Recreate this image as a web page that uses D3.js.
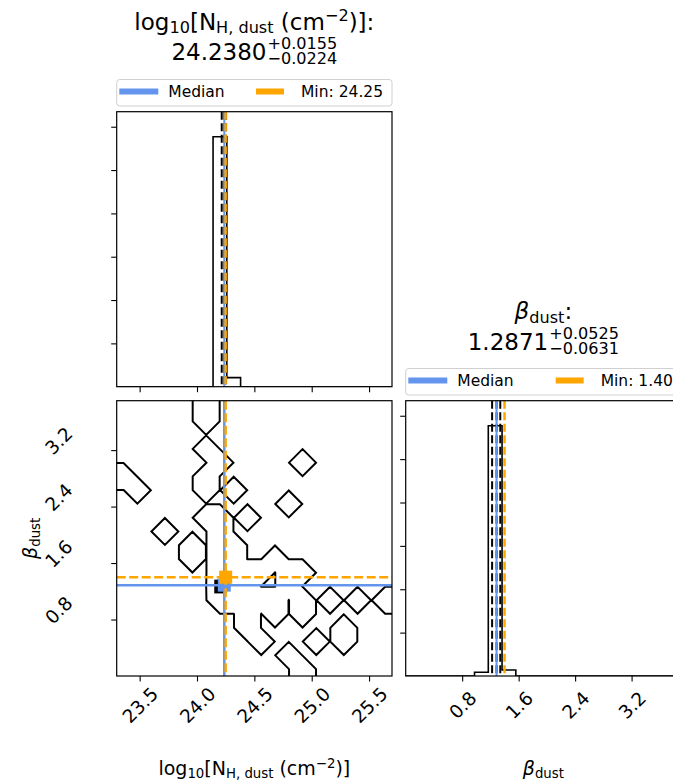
<!DOCTYPE html>
<html><head><meta charset="utf-8">
<script src="https://cdn.jsdelivr.net/npm/d3@7"></script>
<style>
body{margin:0;background:#fff;}
svg{display:block;font-family:'DejaVu Sans',sans-serif;}
text{white-space:pre;}
</style>
</head><body>
<svg id="c" width="673" height="784"></svg>
<script>
// ---------------- data ----------------
const nhRange = [23.3, 25.7];          // log10 N_H,dust axis range
const betaRange = [0.0, 3.9];          // beta_dust axis range
const nBins = 20;
const nhTicks = [23.5, 24.0, 24.5, 25.0, 25.5];
const nhTickLabels = ["23.5", "24.0", "24.5", "25.0", "25.5"];
const betaTicks = [0.8, 1.6, 2.4, 3.2];
const betaTickLabels = ["0.8", "1.6", "2.4", "3.2"];
const histTicks = [1, 2, 3, 4, 5, 6];
// 1D marginal histograms (20 bins each)
const nhHist   = [0,0,0,0,0,0,0,5.77,0.21,0,0,0,0,0,0,0,0,0,0,0];
const betaHist = [0,0,0,0,0,0.085,5.77,0.14,0,0,0,0,0,0,0,0,0,0,0,0];
// quantiles (16%, 50%, 84%) and best-fit (min) values
const nhQuantiles = [24.2156, 24.2380, 24.2535];
const betaQuantiles = [1.2240, 1.2871, 1.3396];
const nhMedian = 24.2380, nhErrPlus = "+0.0155", nhErrMinus = "\u22120.0224", nhMin = 24.25;
const betaMedian = 1.2871, betaErrPlus = "+0.0525", betaErrMinus = "\u22120.0631", betaMin = 1.40;
const legendLabels = ["Median", "Min: 24.25", "Min: 1.40"];
// 2D histogram counts: rows from the highest beta bin (top) to the lowest (bottom),
// columns from the lowest log N_H bin (left) to the highest (right)
const jointCounts = [
  [0,0,0,0,0,0,1,0,0,0,0,0,0,0,0,0,0,0,0,0],
  [0,0,0,0,0,0,1,0,0,0,0,0,0,0,0,0,0,0,0,0],
  [0,0,0,0,0,0,0,0,0,0,0,0,0,0,0,0,0,0,0,0],
  [0,0,0,0,0,0,1,0,0,0,0,0,0,0,0,0,0,0,0,0],
  [0,0,0,0,0,0,0,1,0,0,0,0,0,1,0,0,0,0,0,0],
  [1,0,0,0,0,0,1,0,0,0,0,0,0,0,0,0,0,0,0,0],
  [0,1,0,0,0,0,1,0,1,0,0,0,0,0,0,0,0,0,0,0],
  [0,0,0,0,0,0,0,0,0,0,0,0,1,0,0,0,0,0,0,0],
  [0,0,0,0,0,0,1,1,0,1,0,0,0,0,0,0,0,0,0,0],
  [0,0,0,1,0,0,0,1,0,0,0,0,0,0,0,0,0,0,0,0],
  [0,0,0,0,0,1,0,1,1,0,0,0,0,0,0,0,0,0,0,0],
  [0,0,0,0,0,1,0,1,1,0,0,1,0,0,0,0,0,0,0,0],
  [0,0,0,0,0,0,0,1,1,1,1,0,1,1,0,0,0,0,0,0],
  [0,0,0,0,0,0,0,40,1,1,0,0,1,0,0,0,0,0,0,0],
  [0,0,0,0,0,0,0,1,1,1,1,1,0,1,0,1,0,1,0,1],
  [0,0,0,0,0,0,0,0,0,1,0,1,0,1,0,0,0,0,0,0],
  [0,0,0,0,0,0,0,0,0,1,0,0,0,0,0,0,1,0,0,0],
  [0,0,0,0,0,0,0,0,0,0,1,0,0,0,1,0,1,0,0,0],
  [0,0,0,0,0,0,0,0,0,0,0,0,1,0,0,0,0,0,0,0],
  [0,0,0,0,0,0,0,0,0,0,0,0,0,1,0,0,0,0,0,0]
];

// ---------------- layout ----------------
const P = {lx0:116.7, lx1:392.0, rx0:405.7, rx1:681.0, ty0:111.7, ty1:386.7, by0:400.7, by1:676.0};
const FS = 15.5;   // legend
const TKFS = 18.5; // tick labels
const LFS = 19;    // axis labels
const TFS = 23;    // titles
const BLUE = "#6495ED", ORANGE = "#FFA500";

const svg = d3.select("#c");
const xNH = d3.scaleLinear().domain(nhRange).range([P.lx0, P.lx1]);
const yBeta = d3.scaleLinear().domain(betaRange).range([P.by1, P.by0]);
const xBeta = d3.scaleLinear().domain(betaRange).range([P.rx0, P.rx1]);
const histMax = 1.1 * Math.max(d3.max(nhHist), d3.max(betaHist));
const yTop = d3.scaleLinear().domain([0, histMax]).range([P.ty1, P.ty0]);
const yRight = d3.scaleLinear().domain([0, histMax]).range([P.by1, P.by0]);

const defs = svg.append("defs");
function clip(id, x0, y0, x1, y1) {
  defs.append("clipPath").attr("id", id).append("rect")
    .attr("x", x0).attr("y", y0).attr("width", x1 - x0).attr("height", y1 - y0);
}
clip("cTop", P.lx0, P.ty0, P.lx1, P.ty1);
clip("c2d", P.lx0, P.by0, P.lx1, P.by1);
clip("cRight", P.rx0, P.by0, P.rx1, P.by1);

// ---------------- helpers ----------------
function styleAxis(g) {
  g.select(".domain").remove();
  g.selectAll(".tick line").attr("stroke", "#000").attr("stroke-width", 1.1);
  g.selectAll(".tick text").attr("fill", "#000").attr("font-size", TKFS).attr("font-family", "DejaVu Sans");
}
function mathText(g, x, y, parts, fs, opts) {
  opts = opts || {};
  const t = g.append("text").attr("x", x).attr("y", y).attr("font-size", fs)
    .attr("text-anchor", opts.anchor || "middle").attr("fill", "#000");
  if (opts.transform) t.attr("transform", opts.transform);
  let cur = 0;
  parts.forEach(p => {
    const target = p.s === "b" ? 0.17 * fs : p.s === "p" ? -0.38 * fs : 0;
    const ts = t.append("tspan").text(p.t).attr("dy", (target - cur).toFixed(2));
    if (p.s !== "n") ts.attr("font-size", (0.7 * fs).toFixed(2));
    if (p.it) ts.attr("font-style", "italic");
    cur = target;
  });
  return t;
}
function valueLine(g, cx, by, main, sup, sub, fs) {
  const grp = g.append("g");
  const tm = grp.append("text").attr("x", 0).attr("y", by).attr("font-size", fs).text(main);
  const w = tm.node().getComputedTextLength();
  // stacked upper / lower errors in one text element
  const te = grp.append("text").attr("font-size", 0.7 * fs);
  const s1 = te.append("tspan").attr("x", w + 1).attr("y", by - 0.46 * fs).text(sup);
  const s2 = te.append("tspan").attr("x", w + 1).attr("y", by + 0.21 * fs).text(sub);
  const total = w + 1 + Math.max(s1.node().getComputedTextLength(), s2.node().getComputedTextLength());
  grp.attr("transform", `translate(${cx - total / 2},0)`);
}
function stepPath(hist, xs, ys, range) {
  const dx = (range[1] - range[0]) / hist.length;
  const pts = [[range[0], 0]];
  hist.forEach((h, k) => { pts.push([range[0] + k * dx, h]); pts.push([range[0] + (k + 1) * dx, h]); });
  pts.push([range[1], 0]);
  return d3.line().x(d => xs(d[0])).y(d => ys(d[1]))(pts);
}
function legend(g, x0, y0, w, col2, minLabel) {
  g.append("rect").attr("x", x0).attr("y", y0).attr("width", w).attr("height", 26.5)
    .attr("rx", 3).attr("fill", "#fff").attr("stroke", "#d0d0d0").attr("stroke-width", 1);
  const cy = y0 + 12;
  g.append("line").attr("x1", x0 + 2.6).attr("x2", x0 + 41.6).attr("y1", cy).attr("y2", cy)
    .attr("stroke", BLUE).attr("stroke-width", 6);
  g.append("text").attr("x", x0 + 51.6).attr("y", y0 + 17.6).attr("font-size", FS).text(legendLabels[0]);
  g.append("line").attr("x1", x0 + col2).attr("x2", x0 + col2 + 39).attr("y1", cy).attr("y2", cy)
    .attr("stroke", ORANGE).attr("stroke-width", 6).attr("stroke-dasharray", "28,14");
  g.append("text").attr("x", x0 + col2 + 45).attr("y", y0 + 17.6).attr("font-size", FS).text(minLabel);
}
function vline(g, xs, v, y0, y1, color, w, dash) {
  const l = g.append("line").attr("x1", xs(v)).attr("x2", xs(v)).attr("y1", y0).attr("y2", y1)
    .attr("stroke", color).attr("stroke-width", w);
  if (dash) l.attr("stroke-dasharray", dash);
}
function hline(g, ys, v, x0, x1, color, w, dash) {
  const l = g.append("line").attr("y1", ys(v)).attr("y2", ys(v)).attr("x1", x0).attr("x2", x1)
    .attr("stroke", color).attr("stroke-width", w);
  if (dash) l.attr("stroke-dasharray", dash);
}
const NHLABEL = [{t:"log",s:"n"},{t:"10",s:"b"},{t:"[N",s:"n"},{t:"H, dust",s:"b"},{t:" (cm",s:"n"},{t:"\u22122",s:"p"},{t:")]",s:"n"}];
const BLABEL = [{t:"\u03B2",s:"n",it:true},{t:"dust",s:"b"}];

// ---------------- top histogram (log N_H) ----------------
const gTop = svg.append("g");
const gTopIn = gTop.append("g").attr("clip-path", "url(#cTop)");
gTopIn.append("path").attr("d", stepPath(nhHist, xNH, yTop, nhRange))
  .attr("fill", "none").attr("stroke", "#000").attr("stroke-width", 1.6);
nhQuantiles.forEach(q => vline(gTopIn, xNH, q, P.ty0, P.ty1, "#000", 2, "8,3.5"));
vline(gTopIn, xNH, nhMedian, P.ty0, P.ty1, BLUE, 2);
vline(gTopIn, xNH, nhMin, P.ty0, P.ty1, ORANGE, 2.5, "8,3.5");
gTop.append("g").attr("transform", `translate(0,${P.ty1})`)
  .call(d3.axisBottom(xNH).tickValues(nhTicks).tickSize(5.5).tickFormat("")).call(styleAxis);
gTop.append("g").attr("transform", `translate(${P.lx0},0)`)
  .call(d3.axisLeft(yTop).tickValues(histTicks).tickSize(5.5).tickFormat("")).call(styleAxis);
gTop.append("rect").attr("x", P.lx0).attr("y", P.ty0).attr("width", P.lx1 - P.lx0).attr("height", P.ty1 - P.ty0)
  .attr("fill", "none").attr("stroke", "#000").attr("stroke-width", 1.2);
legend(gTop, P.lx0, P.ty0 - 32.2, P.lx1 - P.lx0, 139.3, legendLabels[1]);
mathText(gTop, (P.lx0 + P.lx1) / 2, P.ty0 - 82.2, NHLABEL.concat([{t:":",s:"n"}]), TFS);
valueLine(gTop, (P.lx0 + P.lx1) / 2, P.ty0 - 52.2, nhMedian.toFixed(4), nhErrPlus, nhErrMinus, TFS);

// ---------------- 2D panel ----------------
const g2 = svg.append("g");
const g2In = g2.append("g").attr("clip-path", "url(#c2d)");
// padded grid like corner's hist2d (edge bins replicated, outer ring at the minimum)
const NP = nBins + 4;
const Hrows = jointCounts.slice().reverse(); // Hrows[j][i], j = 0 lowest beta bin
const padded = new Array(NP * NP).fill(0);
for (let jj = 0; jj < NP; jj++) for (let ii = 0; ii < NP; ii++) {
  const i = ii - 2, j = jj - 2;
  if (i < -1 || i > nBins || j < -1 || j > nBins) continue;
  const ci = Math.max(0, Math.min(nBins - 1, i)), cj = Math.max(0, Math.min(nBins - 1, j));
  padded[jj * NP + ii] = Hrows[cj][ci];
}
const dxBin = (nhRange[1] - nhRange[0]) / nBins, dyBin = (betaRange[1] - betaRange[0]) / nBins;
const gx = c => xNH(nhRange[0] + (c - 2) * dxBin);
const gy = c => yBeta(betaRange[0] + (c - 2) * dyBin);
function polyPath(mp) {
  let d = "";
  mp.coordinates.forEach(poly => poly.forEach(ring => {
    d += "M" + ring.map(p => gx(p[0]).toFixed(2) + "," + gy(p[1]).toFixed(2)).join("L") + "Z";
  }));
  return d;
}
// densest bin(s) shaded black
const dense = [];
Hrows.forEach((row, j) => row.forEach((v, i) => { if (v >= 20) dense.push({i, j}); }));
g2In.selectAll("rect.dense").data(dense).enter().append("rect").attr("class", "dense")
  .attr("x", d => xNH(nhRange[0] + d.i * dxBin) + 1.2)
  .attr("y", d => yBeta(betaRange[0] + (d.j + 1) * dyBin))
  .attr("width", dxBin * (P.lx1 - P.lx0) / (nhRange[1] - nhRange[0]) - 1.2)
  .attr("height", dyBin * (P.by1 - P.by0) / (betaRange[1] - betaRange[0]))
  .attr("fill", "#000");
// contour line (traced on the complement so saddles join the occupied bins)
const neg = padded.map(v => -v);
const cont = d3.contours().size([NP, NP]).thresholds([-0.02])(neg)[0];
g2In.append("path").attr("d", polyPath(cont)).attr("fill", "none").attr("stroke", "#000")
  .attr("stroke-width", 2).attr("stroke-linejoin", "miter");
vline(g2In, xNH, nhMedian, P.by0, P.by1, BLUE, 2.5);
hline(g2In, yBeta, betaMedian, P.lx0, P.lx1, BLUE, 2.5);
g2In.append("rect").attr("x", xNH(nhMedian) - 6.5).attr("y", yBeta(betaMedian) - 6.5).attr("width", 13).attr("height", 13).attr("fill", BLUE);
vline(g2In, xNH, nhMin, P.by0, P.by1, ORANGE, 2.5, "9,3.5");
hline(g2In, yBeta, betaMin, P.lx0, P.lx1, ORANGE, 2.5, "9,3.5");
g2In.append("rect").attr("x", xNH(nhMin) - 6.5).attr("y", yBeta(betaMin) - 6.5).attr("width", 13).attr("height", 13).attr("fill", ORANGE);
g2.append("g").attr("transform", `translate(0,${P.by1})`)
  .call(d3.axisBottom(xNH).tickValues(nhTicks).tickSize(5.5).tickFormat((d, i) => nhTickLabels[i])).call(styleAxis)
  .selectAll(".tick text").attr("y", null).attr("dy", "0.36em").attr("text-anchor", "middle")
  .attr("transform", "translate(0,29) rotate(-45)");
g2.append("g").attr("transform", `translate(${P.lx0},0)`)
  .call(d3.axisLeft(yBeta).tickValues(betaTicks).tickSize(5.5).tickFormat((d, i) => betaTickLabels[i])).call(styleAxis)
  .selectAll(".tick text").attr("x", null).attr("dy", "0.36em").attr("text-anchor", "middle")
  .attr("transform", "translate(-58,-10) rotate(-45)");
g2.append("rect").attr("x", P.lx0).attr("y", P.by0).attr("width", P.lx1 - P.lx0).attr("height", P.by1 - P.by0)
  .attr("fill", "none").attr("stroke", "#000").attr("stroke-width", 1.2);
mathText(g2, (P.lx0 + P.lx1) / 2, 775, NHLABEL, LFS);
mathText(g2, 0, 0, BLABEL, LFS, {transform: `translate(37,${(P.by0 + P.by1) / 2}) rotate(-90)`});

// ---------------- right histogram (beta) ----------------
const gR = svg.append("g");
const gRIn = gR.append("g").attr("clip-path", "url(#cRight)");
gRIn.append("path").attr("d", stepPath(betaHist, xBeta, yRight, betaRange))
  .attr("fill", "none").attr("stroke", "#000").attr("stroke-width", 1.6);
betaQuantiles.forEach(q => vline(gRIn, xBeta, q, P.by0, P.by1, "#000", 2, "8,3.5"));
vline(gRIn, xBeta, betaMedian, P.by0, P.by1, BLUE, 2);
vline(gRIn, xBeta, betaMin, P.by0, P.by1, ORANGE, 2.5, "8,3.5");
gR.append("g").attr("transform", `translate(0,${P.by1})`)
  .call(d3.axisBottom(xBeta).tickValues(betaTicks).tickSize(5.5).tickFormat((d, i) => betaTickLabels[i])).call(styleAxis)
  .selectAll(".tick text").attr("y", null).attr("dy", "0.36em").attr("text-anchor", "middle")
  .attr("transform", "translate(0,29) rotate(-45)");
gR.append("g").attr("transform", `translate(${P.rx0},0)`)
  .call(d3.axisLeft(yRight).tickValues(histTicks).tickSize(5.5).tickFormat("")).call(styleAxis);
gR.append("rect").attr("x", P.rx0).attr("y", P.by0).attr("width", P.rx1 - P.rx0).attr("height", P.by1 - P.by0)
  .attr("fill", "none").attr("stroke", "#000").attr("stroke-width", 1.2);
legend(gR, P.rx0, P.by0 - 32.2, P.rx1 - P.rx0, 150, legendLabels[2]);
mathText(gR, (P.rx0 + P.rx1) / 2, P.by0 - 81.7, BLABEL.concat([{t:":",s:"n"}]), TFS);
valueLine(gR, (P.rx0 + P.rx1) / 2, P.by0 - 51.2, betaMedian.toFixed(4), betaErrPlus, betaErrMinus, TFS);
mathText(gR, (P.rx0 + P.rx1) / 2, 775, BLABEL, LFS);
</script>
</body></html>
